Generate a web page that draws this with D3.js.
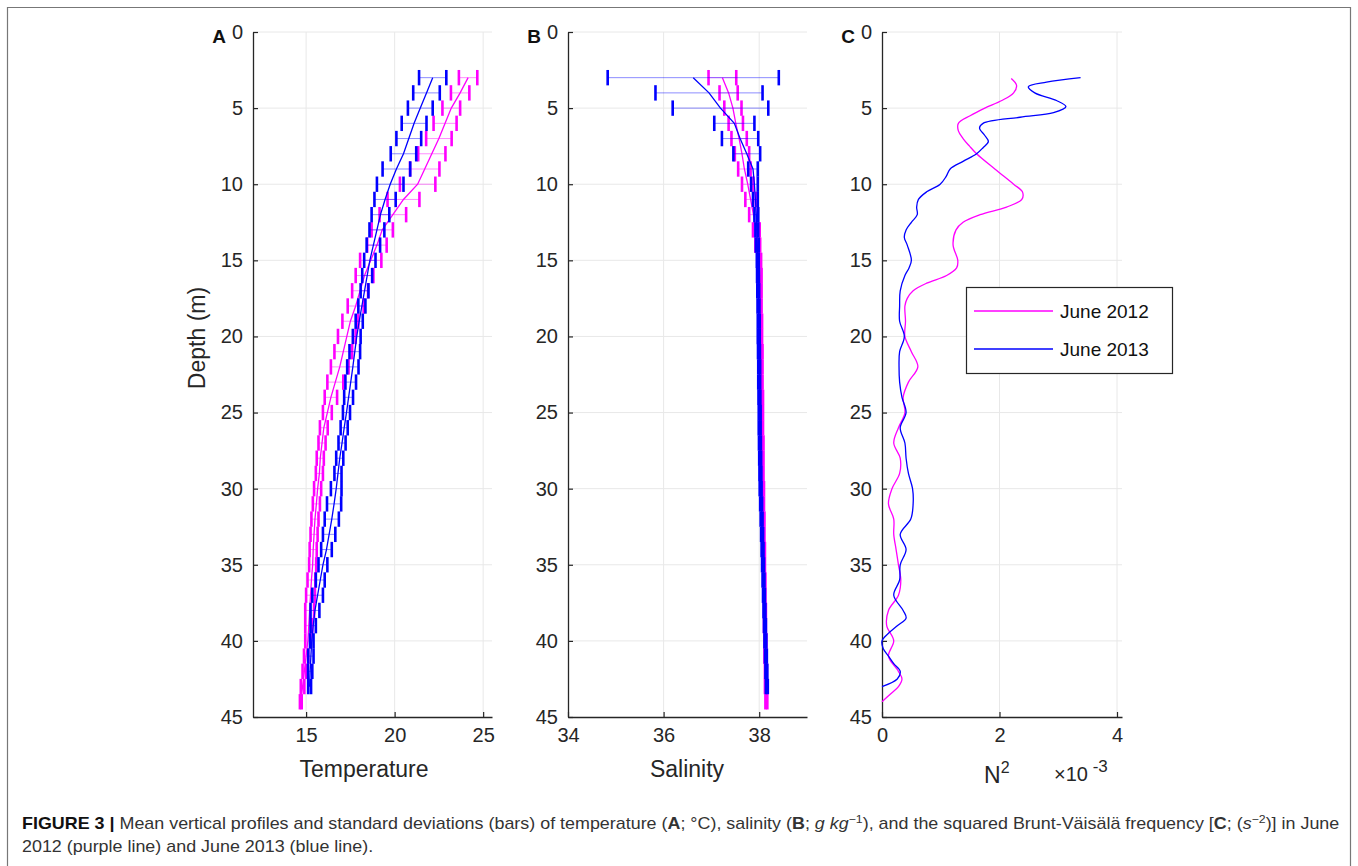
<!DOCTYPE html>
<html>
<head>
<meta charset="utf-8">
<script src="https://cdn.jsdelivr.net/npm/d3@7"></script>
<style>
  body { margin: 0; background: #fff; }
  svg text { font-family: "Liberation Sans", Arial, Helvetica, sans-serif; }
</style>
</head>
<body>
<svg id="fig" width="1358" height="866"></svg>
<script>
// ---- data ----
// temperature (A), 1 m bins
var tDepth2012 = [3,4,5,6,7,8,9,10,11,12,13,14,15,16,17,18,19,20,21,22,23,24,25,26,27,28,29,30,31,32,33,34,35,36,37,38,39,40,41,42,43,44];
var tMean2012 = [24.15,23.7,23.2,22.85,22.5,22.1,21.7,21.3,20.5,19.9,19.3,19.0,18.65,18.3,18.05,17.8,17.5,17.3,17.1,16.9,16.65,16.4,16.2,16.0,15.9,15.8,15.75,15.65,15.58,15.5,15.45,15.4,15.37,15.3,15.25,15.2,15.15,15.1,15.0,14.9,14.8,14.7];
var tSd2012 = [0.52,0.52,0.5,0.65,0.72,0.77,0.83,1.0,0.9,0.75,0.6,0.55,0.6,0.5,0.45,0.45,0.45,0.5,0.5,0.5,0.45,0.35,0.25,0.22,0.2,0.2,0.2,0.2,0.2,0.2,0.2,0.2,0.2,0.22,0.25,0.25,0.2,0.15,0.12,0.1,0.1,0.05];

var tDepth2013 = [3,4,5,6,7,8,9,10,11,12,13,14,15,16,17,18,19,20,21,22,23,24,25,26,27,28,29,30,31,32,33,34,35,36,37,38,39,40,41,42,43];
var tMean2013 = [22.15,21.8,21.45,21.1,20.8,20.5,20.1,19.75,19.46,19.2,19.0,18.8,18.6,18.45,18.3,18.15,18.0,17.86,17.75,17.64,17.52,17.4,17.28,17.15,17.03,16.9,16.8,16.7,16.58,16.45,16.3,16.15,15.95,15.8,15.65,15.5,15.4,15.32,15.27,15.23,15.2];
var tSd2013 = [0.77,0.75,0.7,0.7,0.7,0.72,0.78,0.75,0.6,0.5,0.42,0.38,0.32,0.28,0.22,0.2,0.2,0.22,0.3,0.32,0.3,0.25,0.2,0.2,0.2,0.2,0.2,0.3,0.4,0.4,0.35,0.3,0.25,0.25,0.3,0.25,0.15,0.1,0.15,0.12,0.08];

// salinity (B)
var sMean2012 = [37.23,37.36,37.45,37.51,37.58,37.64,37.69,37.76,37.82,37.88,37.94,37.97,38.0,38.02,38.03,38.03,38.04,38.04,38.05,38.05,38.05,38.06,38.06,38.06,38.07,38.07,38.07,38.08,38.08,38.09,38.09,38.1,38.1,38.11,38.11,38.12,38.12,38.13,38.13,38.14,38.14,38.15];
var sSd2012 = [0.29,0.19,0.18,0.15,0.16,0.15,0.13,0.12,0.11,0.09,0.07,0.05,0.04,0.03,0.02,0.02,0.02,0.02,0.02,0.02,0.02,0.02,0.02,0.02,0.02,0.02,0.02,0.02,0.02,0.02,0.02,0.02,0.02,0.02,0.02,0.02,0.02,0.02,0.02,0.02,0.02,0.02];
var sMean2013 = [36.62,36.95,37.19,37.48,37.6,37.74,37.87,37.9,37.92,37.94,37.95,37.96,37.97,37.975,37.98,37.985,37.99,37.99,37.995,38.0,38.0,38.005,38.01,38.01,38.015,38.02,38.025,38.03,38.04,38.05,38.06,38.07,38.08,38.09,38.1,38.11,38.12,38.13,38.14,38.15,38.16];
var sSd2013 = [1.79,1.12,1.0,0.42,0.38,0.28,0.1,0.07,0.05,0.04,0.03,0.03,0.02,0.02,0.02,0.02,0.02,0.02,0.02,0.02,0.02,0.02,0.02,0.02,0.02,0.02,0.02,0.02,0.02,0.02,0.02,0.02,0.02,0.02,0.02,0.02,0.02,0.02,0.02,0.02,0.02];

// N^2 (C), x 10^-3 s^-2
var n2Depth2012 = [3.05,3.5,4,4.5,5,5.5,6,6.5,7,7.5,8,9,10,10.5,11,11.5,12,12.5,13,14,15,15.5,16,16.5,17,17.5,18,19,20,21,22,23,24,25,26,27,28,29,30,31,32,33,34,35,36,37,38,39,40,41,42,42.5,43,43.5,44];
var n2Val2012 = [2.2,2.29,2.24,2.04,1.75,1.5,1.3,1.3,1.38,1.49,1.61,1.92,2.24,2.39,2.38,2.12,1.67,1.38,1.26,1.21,1.29,1.27,1.1,0.76,0.53,0.43,0.39,0.4,0.39,0.5,0.61,0.45,0.36,0.39,0.28,0.2,0.31,0.3,0.17,0.11,0.2,0.2,0.24,0.28,0.32,0.28,0.11,0.08,0.2,0.11,0.28,0.34,0.28,0.14,0];
var n2Depth2013 = [3,3.3,3.6,4,4.5,4.9,5.3,5.6,6,6.3,6.8,7.2,7.6,8,8.5,9,9.5,10,10.5,11,11.5,12,12.5,13,13.5,14,15,15.5,16,17,18,19,20,21,22,23,24,25,26,27,28,29,30,31,32,33,34,35,36,37,38,38.5,39,39.5,40,40.5,41,41.5,42,42.5,43];
var n2Val2013 = [3.38,2.8,2.49,2.6,2.97,3.13,2.92,2.35,1.72,1.66,1.75,1.81,1.72,1.61,1.38,1.16,1.09,0.99,0.76,0.62,0.59,0.6,0.5,0.41,0.38,0.43,0.5,0.46,0.39,0.31,0.3,0.3,0.38,0.3,0.29,0.3,0.34,0.41,0.31,0.39,0.41,0.45,0.52,0.53,0.49,0.31,0.41,0.31,0.3,0.2,0.36,0.41,0.26,0.11,0,0.02,0.11,0.2,0.31,0.26,0];

var depthTicks = [0,5,10,15,20,25,30,35,40,45];
var tempTicks = [15,20,25];
var salTicks = [34,36,38];
var n2Ticks = [0,2,4];
var seriesNames = ['June 2012','June 2013'];

var col2012 = '#ff00ff';
var col2013 = '#0000ff';
var axisCol = '#262626';
var gridCol = '#e8e8e8';

var svg = d3.select('#fig');

// figure frame
svg.append('path')
  .attr('d', 'M7.5,870 V7.5 H1350.5 V870')
  .attr('fill', 'none')
  .attr('stroke', '#777')
  .attr('stroke-width', 1.2);

var plotTop = 32, plotBottom = 717;
var y = d3.scaleLinear().domain([0, 45]).range([plotTop, plotBottom]);

// sets up one panel: grid, axes, letter; returns the x scale
function panel(left, right, xDomain, xTicks, letter) {
  var x = d3.scaleLinear().domain(xDomain).range([left, right]);
  var g = svg.append('g');

  // grid
  g.append('g')
    .selectAll('line')
    .data(depthTicks.slice(0, -1))
    .enter().append('line')
      .attr('x1', left).attr('x2', right)
      .attr('y1', function(d) { return y(d); })
      .attr('y2', function(d) { return y(d); })
      .attr('stroke', gridCol).attr('stroke-width', 1);
  g.append('g')
    .selectAll('line')
    .data(xTicks.filter(function(t) { return x(t) > left + 1; }))
    .enter().append('line')
      .attr('x1', function(d) { return x(d); })
      .attr('x2', function(d) { return x(d); })
      .attr('y1', plotTop).attr('y2', plotBottom)
      .attr('stroke', gridCol).attr('stroke-width', 1);

  // axes, ticks inward
  var ya = g.append('g')
    .attr('transform', 'translate(' + left + ',0)')
    .call(d3.axisLeft(y).tickValues(depthTicks).tickFormat(d3.format('d'))
      .tickSizeInner(-5).tickSizeOuter(0).tickPadding(10));
  var xa = g.append('g')
    .attr('transform', 'translate(0,' + plotBottom + ')')
    .call(d3.axisBottom(x).tickValues(xTicks).tickFormat(d3.format('d'))
      .tickSizeInner(-5).tickSizeOuter(0).tickPadding(11));
  [ya, xa].forEach(function(a) {
    a.select('.domain').attr('stroke', axisCol).attr('stroke-width', 1.3);
    a.selectAll('.tick line').attr('stroke', axisCol).attr('stroke-width', 1.2);
    a.selectAll('.tick text').attr('fill', axisCol).style('font-size', '20px');
  });
  xa.selectAll('.tick text').attr('dy', '0.72em');

  svg.append('text')
    .attr('x', left - 27).attr('y', 43)
    .attr('text-anchor', 'end')
    .style('font-size', '19px').style('font-weight', 'bold')
    .attr('fill', '#111')
    .text(letter);
  return x;
}

// horizontal error bars with thick end caps, then the mean line
function errorProfile(x, depths, means, sds, color) {
  var g = svg.append('g');
  g.append('g').selectAll('line')
    .data(depths)
    .enter().append('line')
      .attr('x1', function(d, i) { return x(means[i] - sds[i]); })
      .attr('x2', function(d, i) { return x(means[i] + sds[i]); })
      .attr('y1', function(d) { return y(d); })
      .attr('y2', function(d) { return y(d); })
      .attr('stroke', color).attr('stroke-opacity', 0.45).attr('stroke-width', 1);
  [-1, 1].forEach(function(s) {
    g.append('g').selectAll('line')
      .data(depths)
      .enter().append('line')
        .attr('x1', function(d, i) { return x(means[i] + s * sds[i]); })
        .attr('x2', function(d, i) { return x(means[i] + s * sds[i]); })
        .attr('y1', function(d) { return y(d) - 7.7; })
        .attr('y2', function(d) { return y(d) + 7.7; })
        .attr('stroke', color).attr('stroke-width', 2.6);
  });
  var line = d3.line()
    .x(function(d, i) { return x(means[i]); })
    .y(function(d) { return y(d); });
  g.append('path')
    .datum(depths)
    .attr('d', line)
    .attr('fill', 'none')
    .attr('stroke', color).attr('stroke-width', 1.3);
}

// ---- A: temperature ----
var xA = panel(253, 492, [12, 25.5], tempTicks, 'A');
errorProfile(xA, tDepth2012, tMean2012, tSd2012, col2012);
errorProfile(xA, tDepth2013, tMean2013, tSd2013, col2013);

// ---- B: salinity ----
var xB = panel(568, 807, [34, 39], salTicks, 'B');
errorProfile(xB, tDepth2012, sMean2012, sSd2012, col2012);
errorProfile(xB, tDepth2013, sMean2013, sSd2013, col2013);

// ---- C: N^2 ----
var xC = panel(882, 1122, [0, 4.085], n2Ticks, 'C');
var n2Line = d3.line().curve(d3.curveCatmullRom.alpha(0.5));
function n2Path(depths, vals, color) {
  svg.append('path')
    .datum(depths.map(function(d, i) { return [xC(vals[i]), y(d)]; }))
    .attr('d', n2Line)
    .attr('fill', 'none')
    .attr('stroke', color).attr('stroke-width', 1.3);
}
n2Path(n2Depth2012, n2Val2012, col2012);
n2Path(n2Depth2013, n2Val2013, col2013);

// legend
var leg = svg.append('g');
leg.append('rect')
  .attr('x', 966.5).attr('y', 287.5).attr('width', 206).attr('height', 86)
  .attr('fill', '#fff').attr('stroke', axisCol).attr('stroke-width', 1.2);
[col2012, col2013].forEach(function(c, i) {
  var ly = 311 + i * 38;
  leg.append('line')
    .attr('x1', 974).attr('x2', 1053).attr('y1', ly).attr('y2', ly)
    .attr('stroke', c).attr('stroke-width', 1.3);
  leg.append('text')
    .attr('x', 1060).attr('y', ly + 7)
    .style('font-size', '19px').attr('fill', '#111')
    .text(seriesNames[i]);
});

// axis titles
function label(x, yy, txt) {
  return svg.append('text')
    .attr('x', x).attr('y', yy)
    .attr('text-anchor', 'middle')
    .style('font-size', '23px').attr('fill', axisCol)
    .text(txt);
}
label(364, 777, 'Temperature');
label(687, 777, 'Salinity');
svg.append('text')
  .attr('transform', 'translate(205,338) rotate(-90)')
  .attr('text-anchor', 'middle')
  .style('font-size', '23px').attr('fill', axisCol)
  .text('Depth (m)');

var n2t = svg.append('text')
  .attr('x', 984).attr('y', 783)
  .style('font-size', '23px').attr('fill', axisCol);
n2t.append('tspan').text('N');
n2t.append('tspan').attr('dy', -10).style('font-size', '16px').text('2');

var mult = svg.append('text')
  .attr('x', 1054).attr('y', 781)
  .style('font-size', '20px').attr('fill', axisCol);
mult.append('tspan').text('\u00d710');
mult.append('tspan').attr('dy', -9).style('font-size', '17px').text(' -3');

// caption
var cap1 = svg.append('text').style('font-size', '16px').attr('fill', '#333');
function ts(t, txt, style) {
  var s = t.append('tspan').text(txt);
  if (style) for (var k in style) s.style(k, style[k]);
  return s;
}
ts(cap1, 'FIGURE 3 | ', {'font-weight': 'bold', 'fill': '#111'});
ts(cap1, 'Mean vertical profiles and standard deviations (bars) of temperature (');
ts(cap1, 'A', {'font-weight': 'bold'});
ts(cap1, '; \u00b0C), salinity (');
ts(cap1, 'B', {'font-weight': 'bold'});
ts(cap1, '; ');
ts(cap1, 'g kg', {'font-style': 'italic'});
ts(cap1, '\u22121', {'font-size': '11px'}).attr('dy', -6);
ts(cap1, '), and the squared Brunt-V\u00e4is\u00e4l\u00e4 frequency [').attr('dy', 6);
ts(cap1, 'C', {'font-weight': 'bold'});
ts(cap1, '; (');
ts(cap1, 's', {'font-style': 'italic'});
ts(cap1, '\u22122', {'font-size': '11px'}).attr('dy', -6);
ts(cap1, ')] in June').attr('dy', 6);

var cap2 = svg.append('text').style('font-size', '16px').attr('fill', '#333')
  .text('2012 (purple line) and June 2013 (blue line).');

var sx = 1318 / cap1.node().getComputedTextLength();
cap1.attr('transform', 'translate(22,829) scale(' + sx + ',1)');
cap2.attr('transform', 'translate(22,852) scale(' + sx + ',1)');
</script>
</body>
</html>
